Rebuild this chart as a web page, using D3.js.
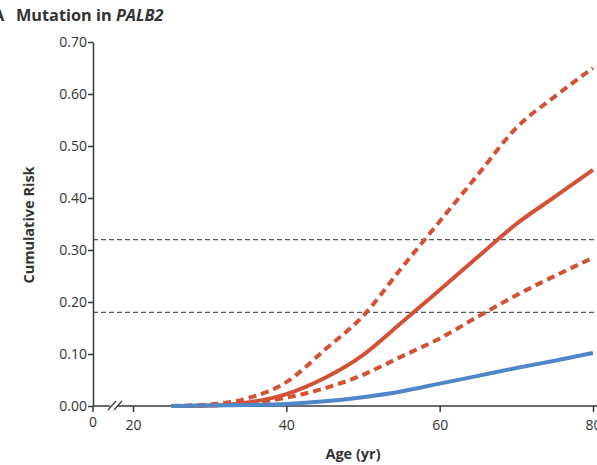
<!DOCTYPE html>
<html>
<head>
<meta charset="utf-8">
<script src="https://cdn.jsdelivr.net/npm/d3@7"></script>
<style>
  body { margin: 0; background: #fff; }
  svg { display: block; font-family: "Open Sans", "Liberation Sans", sans-serif; }
</style>
</head>
<body>
<div id="chart"></div>
<script>
// ages (yr) at which the curves are read
var ages = [25, 30, 35, 40, 45, 50, 55, 60, 65, 70, 75, 80];

// PALB2 carriers: estimate and 95% CI bounds
var palb2 = [0, 0.001, 0.007, 0.023, 0.054, 0.098, 0.16, 0.223, 0.287, 0.35, 0.402, 0.454];
var palb2Upper = [0, 0.003, 0.015, 0.046, 0.108, 0.173, 0.265, 0.355, 0.445, 0.535, 0.595, 0.65];
var palb2Lower = [0, 0.001, 0.005, 0.016, 0.034, 0.06, 0.095, 0.13, 0.172, 0.213, 0.25, 0.285];
// general population
var population = [0, 0.001, 0.002, 0.004, 0.009, 0.017, 0.028, 0.043, 0.058, 0.073, 0.087, 0.102];

// reference horizontal lines
var refLines = [0.32, 0.18];

var yTicks = [0, 0.1, 0.2, 0.3, 0.4, 0.5, 0.6, 0.7];
var xTicks = [20, 40, 60, 80];

var width = 597, height = 465;
var red = "#d35236", blue = "#4f87c8", axisColor = "#3a3a3a";

var svg = d3.select("#chart").append("svg")
	.attr("width", width)
	.attr("height", height);

var axisX0 = 93;
var x = d3.scaleLinear().domain([20, 80]).range([133, 593]);
var y = d3.scaleLinear().domain([0, 0.7]).range([406, 42]);

//title (panel letter is clipped at the left edge, as in the source figure)
var title = svg.append("text")
	.attr("y", 21)
	.attr("font-size", "16.3px")
	.attr("font-weight", "bold")
	.attr("fill", "#333");
title.append("tspan").attr("x", -7).text("A");
title.append("tspan").attr("x", 16).text("Mutation in ");
title.append("tspan").attr("font-style", "italic").text("PALB2");

//reference dashed lines
svg.selectAll(".ref")
	.data(refLines)
	.enter()
	.append("line")
	.attr("class", "ref")
	.attr("x1", axisX0)
	.attr("x2", 597)
	.attr("y1", function (d) { return y(d); })
	.attr("y2", function (d) { return y(d); })
	.attr("stroke", "#555")
	.attr("stroke-width", 1.2)
	.attr("stroke-dasharray", "5,3");

//y axis
var yAxis = d3.axisLeft(y)
	.tickValues(yTicks)
	.tickFormat(d3.format(".2f"))
	.tickSize(5)
	.tickSizeOuter(0);
var gy = svg.append("g")
	.attr("transform", "translate(" + axisX0 + ",0)")
	.call(yAxis);
gy.select(".domain").attr("stroke", axisColor).attr("stroke-width", 1.5);
gy.selectAll(".tick line").attr("stroke", axisColor).attr("stroke-width", 1.5);
gy.selectAll(".tick text")
	.attr("font-size", "14px")
	.attr("fill", "#333")
	.attr("x", -6)
	.style("font-family", "Open Sans, sans-serif");

//x axis (broken between 0 and 20)
var gx = svg.append("g").attr("transform", "translate(0," + y(0) + ")");
gx.append("line")
	.attr("x1", axisX0).attr("x2", 597)
	.attr("y1", 0).attr("y2", 0)
	.attr("stroke", axisColor).attr("stroke-width", 1.5);
var xAxis = d3.axisBottom(x).tickValues(xTicks).tickSize(6).tickSizeOuter(0);
var gxt = gx.append("g").call(xAxis);
gxt.select(".domain").remove();
gxt.selectAll(".tick line").attr("stroke", axisColor).attr("stroke-width", 1.5);
gxt.selectAll(".tick text")
	.attr("font-size", "14px")
	.attr("fill", "#333")
	.attr("dy", "1.05em")
	.style("font-family", "Open Sans, sans-serif");

// the "0" tick before the break
gx.append("line")
	.attr("x1", axisX0).attr("x2", axisX0)
	.attr("y1", 0).attr("y2", 6)
	.attr("stroke", axisColor).attr("stroke-width", 1.5);
gx.append("text")
	.attr("x", axisX0)
	.attr("y", 6)
	.attr("dy", "1.05em")
	.attr("text-anchor", "middle")
	.attr("font-size", "14px")
	.attr("fill", "#333")
	.text("0");

// break marks
gx.append("rect")
	.attr("x", 110).attr("y", -3)
	.attr("width", 7).attr("height", 6)
	.attr("fill", "#fff");
[108, 114].forEach(function (bx) {
	gx.append("line")
		.attr("x1", bx).attr("y1", 4)
		.attr("x2", bx + 8).attr("y2", -5)
		.attr("stroke", axisColor)
		.attr("stroke-width", 1.2);
});

//axis titles
svg.append("text")
	.attr("transform", "translate(34,225) rotate(-90)")
	.attr("text-anchor", "middle")
	.attr("font-size", "14.5px")
	.attr("font-weight", "bold")
	.attr("fill", "#333")
	.text("Cumulative Risk");

svg.append("text")
	.attr("x", 353)
	.attr("y", 459)
	.attr("text-anchor", "middle")
	.attr("font-size", "14.5px")
	.attr("font-weight", "bold")
	.attr("fill", "#333")
	.text("Age (yr)");

//curves
var line = d3.line()
	.x(function (d) { return x(d[0]); })
	.y(function (d) { return y(d[1]); })
	.curve(d3.curveMonotoneX);

function addCurve(values, color, dash) {
	svg.append("path")
		.datum(d3.zip(ages, values))
		.attr("d", line)
		.attr("fill", "none")
		.attr("stroke", color)
		.attr("stroke-width", 4)
		.attr("stroke-dasharray", dash || null);
}

addCurve(palb2Upper, red, "8,5");
addCurve(palb2Lower, red, "8,5");
addCurve(palb2, red);
addCurve(population, blue);
</script>
</body>
</html>
